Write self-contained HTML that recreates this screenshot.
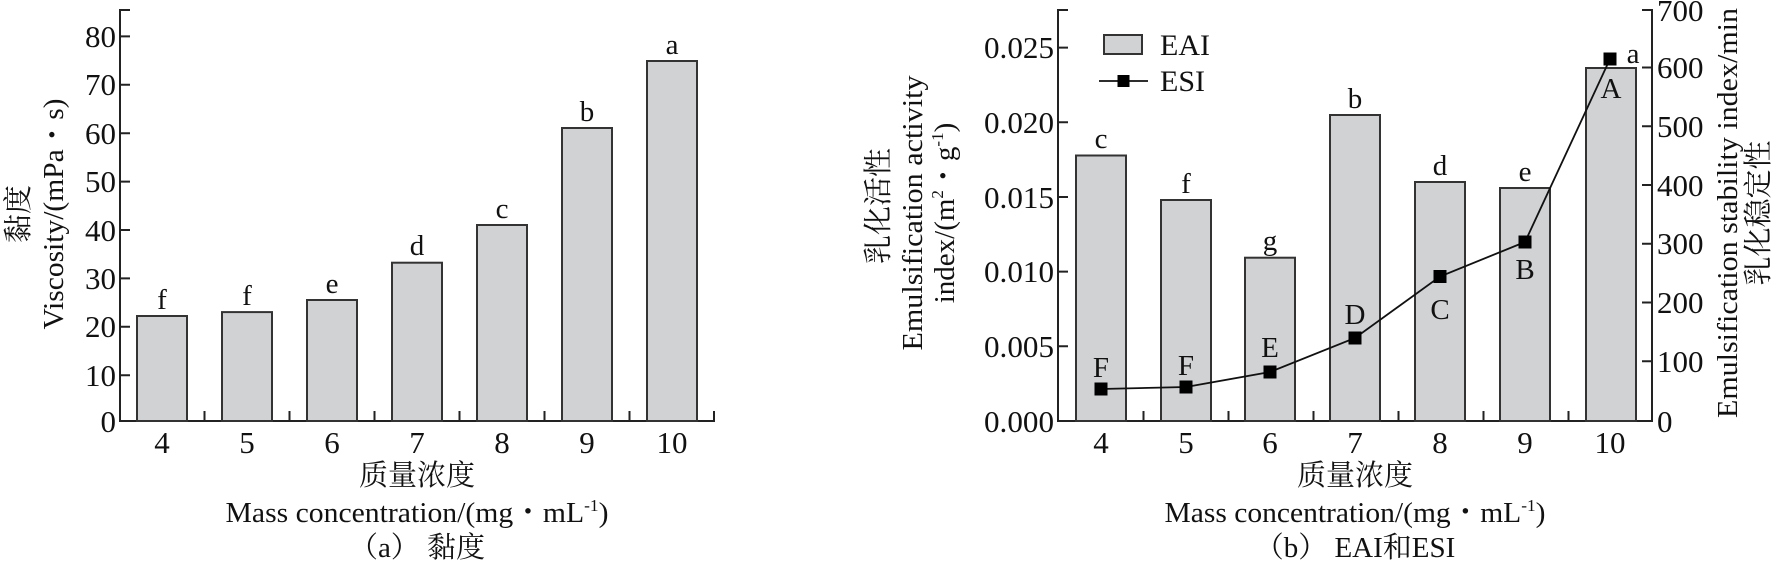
<!DOCTYPE html>
<html><head><meta charset="utf-8"><style>
html,body{margin:0;padding:0;background:#fff;}
svg{display:block;}
svg text{font-family:"Liberation Serif","DejaVu Serif","Noto Serif CJK SC",serif;fill:#111;}
</style></head><body>
<svg width="1775" height="563" viewBox="0 0 1775 563" xmlns="http://www.w3.org/2000/svg" font-family="Liberation Serif, DejaVu Serif, Noto Serif CJK SC, serif">
<g stroke="#222" stroke-width="2" fill="none">
<path d="M130,10 H120 V421 H714 V411"/>
<path d="M120,36.4 h10 M120,84.8 h10 M120,133.2 h10 M120,181.6 h10 M120,230 h10 M120,278.4 h10 M120,326.8 h10 M120,375.2 h10"/>
<path d="M204.5,421 v-10 M289.5,421 v-10 M374.5,421 v-10 M459.5,421 v-10 M544.5,421 v-10 M629.5,421 v-10"/>
<path d="M1068,10 H1058 V421 H1652 V10 H1642"/>
<path d="M1058,47.6 h10 M1058,122.3 h10 M1058,197 h10 M1058,271.6 h10 M1058,346.3 h10"/>
<path d="M1652,67.5 h-10 M1652,126.3 h-10 M1652,185 h-10 M1652,243.8 h-10 M1652,302.5 h-10 M1652,361.3 h-10"/>
<path d="M1143.5,421 v-10 M1228.5,421 v-10 M1313.5,421 v-10 M1398.5,421 v-10 M1483.5,421 v-10 M1568.5,421 v-10"/>
</g>
<g fill="#d1d2d4" stroke="#333" stroke-width="2">
<rect x="137" y="316" width="50" height="105"/>
<rect x="222" y="312.1" width="50" height="108.9"/>
<rect x="307" y="300" width="50" height="121"/>
<rect x="392" y="262.7" width="50" height="158.3"/>
<rect x="477" y="225" width="50" height="196"/>
<rect x="562" y="128" width="50" height="293"/>
<rect x="647" y="61" width="50" height="360"/>
<rect x="1076" y="155.5" width="50" height="265.5"/>
<rect x="1161" y="200" width="50" height="221"/>
<rect x="1245" y="257.7" width="50" height="163.3"/>
<rect x="1330" y="115" width="50" height="306"/>
<rect x="1415" y="182" width="50" height="239"/>
<rect x="1500" y="188" width="50" height="233"/>
<rect x="1586" y="68" width="50" height="353"/>
<rect x="1104" y="35" width="38" height="19"/>
</g>
<polyline points="1101,389 1186,387 1270,372 1355,338 1440,276.5 1525,242 1610,59" fill="none" stroke="#111" stroke-width="1.8"/>
<line x1="1099" y1="81" x2="1148" y2="81" stroke="#111" stroke-width="1.8"/>
<g fill="#000">
<rect x="1094.5" y="382.5" width="13" height="13"/>
<rect x="1179.5" y="380.5" width="13" height="13"/>
<rect x="1263.5" y="365.5" width="13" height="13"/>
<rect x="1348.5" y="331.5" width="13" height="13"/>
<rect x="1433.5" y="270" width="13" height="13"/>
<rect x="1518.5" y="235.5" width="13" height="13"/>
<rect x="1603.5" y="52.5" width="13" height="13"/>
<rect x="1117.5" y="75" width="12" height="12"/>
</g>
<g font-size="31" text-anchor="end">
<text x="116" y="47">80</text><text x="116" y="95">70</text><text x="116" y="144">60</text>
<text x="116" y="192">50</text><text x="116" y="241">40</text><text x="116" y="289">30</text>
<text x="116" y="337">20</text><text x="116" y="386">10</text><text x="116" y="432">0</text>
</g>
<g font-size="31" text-anchor="middle">
<text x="162" y="453">4</text><text x="247" y="453">5</text><text x="332" y="453">6</text>
<text x="417" y="453">7</text><text x="502" y="453">8</text><text x="587" y="453">9</text><text x="672" y="453">10</text>
<text x="1101" y="453">4</text><text x="1186" y="453">5</text><text x="1270" y="453">6</text>
<text x="1355" y="453">7</text><text x="1440" y="453">8</text><text x="1525" y="453">9</text><text x="1610" y="453">10</text>
</g>
<g font-size="29" text-anchor="middle">
<text x="162" y="309">f</text><text x="247" y="305">f</text><text x="332" y="293">e</text>
<text x="417" y="255">d</text><text x="502" y="218">c</text><text x="587" y="121">b</text><text x="672" y="54">a</text>
<text x="1101" y="148">c</text><text x="1186" y="193">f</text><text x="1270" y="250">g</text>
<text x="1355" y="108">b</text><text x="1440" y="175">d</text><text x="1525" y="181">e</text>
<text x="1101" y="377">F</text><text x="1186" y="375">F</text><text x="1270" y="357">E</text>
<text x="1355" y="324">D</text><text x="1440" y="319">C</text><text x="1525" y="279">B</text><text x="1611" y="98">A</text>
<text x="1633" y="63">a</text>
</g>
<g font-size="31" text-anchor="end">
<text x="1054" y="58" textLength="70" lengthAdjust="spacingAndGlyphs">0.025</text><text x="1054" y="133" textLength="70" lengthAdjust="spacingAndGlyphs">0.020</text>
<text x="1054" y="208" textLength="70" lengthAdjust="spacingAndGlyphs">0.015</text><text x="1054" y="282" textLength="70" lengthAdjust="spacingAndGlyphs">0.010</text>
<text x="1054" y="357" textLength="70" lengthAdjust="spacingAndGlyphs">0.005</text><text x="1054" y="432" textLength="70" lengthAdjust="spacingAndGlyphs">0.000</text>
</g>
<g font-size="31">
<text x="1657" y="21">700</text><text x="1657" y="78">600</text><text x="1657" y="137">500</text>
<text x="1657" y="196">400</text><text x="1657" y="254">300</text><text x="1657" y="313">200</text>
<text x="1657" y="372">100</text><text x="1657" y="432">0</text>
</g>
<g font-size="30"><text x="1160" y="55">EAI</text><text x="1160" y="91">ESI</text></g>
<g font-size="29" text-anchor="middle">
<text x="417" y="485">质量浓度</text>
<text x="417" y="522" textLength="383" lengthAdjust="spacingAndGlyphs">Mass concentration/(mg・mL<tspan font-size="17" dy="-11">-1</tspan><tspan dy="11">)</tspan></text>
<text x="417" y="557">（a） 黏度</text>
<text x="1355" y="485">质量浓度</text>
<text x="1355" y="522" textLength="381" lengthAdjust="spacingAndGlyphs">Mass concentration/(mg・mL<tspan font-size="17" dy="-11">-1</tspan><tspan dy="11">)</tspan></text>
<text x="1355" y="557">（b） EAI和ESI</text>
<text transform="translate(28,214) rotate(-90)">黏度</text>
<text transform="translate(63,214) rotate(-90)" textLength="231" lengthAdjust="spacingAndGlyphs">Viscosity/(mPa・s)</text>
<text transform="translate(888,206) rotate(-90)">乳化活性</text>
<text transform="translate(922,213) rotate(-90)" textLength="275" lengthAdjust="spacingAndGlyphs">Emulsification activity</text>
<text transform="translate(954,213) rotate(-90)">index/(m<tspan font-size="17" dy="-11">2</tspan><tspan dy="11">・g</tspan><tspan font-size="17" dy="-11">-1</tspan><tspan dy="11">)</tspan></text>
<text transform="translate(1737,213) rotate(-90)" textLength="410" lengthAdjust="spacingAndGlyphs">Emulsification stability index/min</text>
<text transform="translate(1768,213) rotate(-90)">乳化稳定性</text>
</g>
</svg>
</body></html>
